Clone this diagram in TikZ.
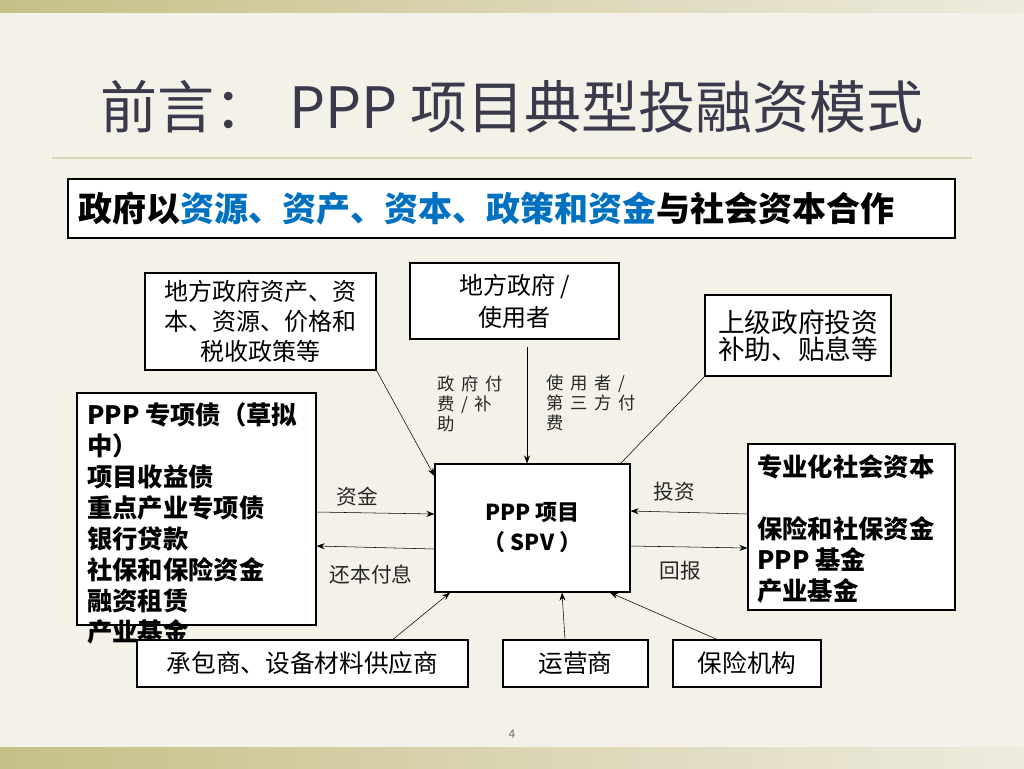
\documentclass[tikz,border=0pt]{standalone}
\usepackage{fontspec}
\setmainfont{Noto Sans CJK SC}
\usetikzlibrary{arrows.meta,calc}
\definecolor{slidebg}{HTML}{F4F2E8}
\definecolor{bandl}{HTML}{C6BF86}
\definecolor{bandr}{HTML}{EEEBDF}
\definecolor{titlec}{HTML}{3A3A4C}
\definecolor{hilite}{HTML}{0070C0}
\definecolor{rulec}{HTML}{D9D3AE}
\newcommand\gap{\hspace{5pt}}

\begin{document}
\begin{tikzpicture}[
  x=0.75pt, y=-0.75pt,
  box/.style={draw, line width=0.9pt, fill=white, inner sep=0pt, align=center},
  sized/.style 2 args={minimum width=#1*0.75pt, minimum height=#2*0.75pt},
  lbl/.style={text=black!85, inner sep=0pt, font=\fontsize{15.5}{18}\selectfont},
  small/.style={text=black!85, inner sep=0pt, align=left, font=\fontsize{13}{15}\selectfont},
  >={Stealth[length=6pt,width=4.5pt]}
]
% slide background
\fill[slidebg] (0,0) rectangle (1024,768);
\shade[left color=bandl, right color=bandr] (0,0) rectangle (1024,12);
\shade[left color=bandl, right color=bandr] (0,747) rectangle (1024,768);
\draw[rulec, line width=1.5pt] (52,158) -- (972,158);
\useasboundingbox (0,0) rectangle (1024,768);

\node[text=titlec, font=\fontsize{42.75}{50}\selectfont] (title) at (512,107)
  {前言：\hspace{13pt}PPP 项目典型投融资模式};

\node[box, sized={887}{59}, inner xsep=7.5pt, text width=650.25pt, align=left,
  font=\fontsize{25.5}{30}\selectfont\bfseries] (ban) at (511.5,208.5)
  {政府以\textcolor{hilite}{资源、资产、资本、政策和资金}与社会资本合作};

% boxes
\node[box, sized={231}{97}, font=\fontsize{18}{22.5}\selectfont] (res) at (260.5,321.5)
  {地方政府资产、资\\本、资源、价格和\\税收政策等};
\node[box, sized={209}{76}, font=\fontsize{18}{24}\selectfont] (gov) at (514.5,301)
  {地方政府 /\\使用者};
\node[box, sized={186}{81}, font=\fontsize{20}{20.5}\selectfont] (sup) at (798,335.5)
  {上级政府投资\\补助、贴息等};
\node[box, sized={239}{232}] (fin) at (196.5,509) {};
\node[anchor=north west, inner sep=0pt, align=left,
  font=\fontsize{19}{23.25}\selectfont\bfseries] (fintxt) at (87,402)
  {PPP 专项债（草拟\\中）\\项目收益债\\重点产业专项债\\银行贷款\\社保和保险资金\\融资租赁\\产业基金};
\node[box, sized={195}{128}, font=\fontsize{16.5}{22.5}\selectfont\bfseries] (spv) at (532.5,528)
  {PPP 项目\\（ SPV ）};
\node[box, sized={207}{166}] (inv) at (851.5,527) {};
\node[anchor=north west, inner sep=0pt, align=left,
  font=\fontsize{19}{23.25}\selectfont\bfseries] (invtxt) at (757,454)
  {专业化社会资本\\[23.25pt]保险和社保资金\\PPP 基金\\产业基金};
\node[box, sized={331}{47}, font=\fontsize{18.5}{22}\selectfont] (con) at (302.5,663.5)
  {承包商、设备材料供应商};
\node[box, sized={145}{47}, font=\fontsize{18.5}{22}\selectfont] (opr) at (575.5,663.5)
  {运营商};
\node[box, sized={148}{47}, font=\fontsize{18.5}{22}\selectfont] (ins) at (747,663.5)
  {保险机构};

% labels
\node[small, anchor=north west] (govpay) at (437,375) {政\gap 府\gap 付\\费\gap /\gap 补\\助};
\node[small, anchor=north west] (usrpay) at (546,375) {使\gap 用\gap 者\gap /\\第\gap 三\gap 方\gap 付\\费};
\node[lbl] (funds) at (357,497) {资金};
\node[lbl] (repay) at (371,575) {还本付息};
\node[lbl] (invest) at (674,492) {投资};
\node[lbl] (ret) at (680,571) {回报};

% connectors
\draw[->] (res.south east) -- ($(spv.west)+(0,-52)$);
\draw[->] ($(gov.south)+(12.5,7)$) -- ($(spv.north)+(-5.5,0)$);
\draw (sup.south west) -- ($(spv.north east)+(-10,0)$);
\draw[->] ($(fin.east)+(0,3)$) -- ($(spv.west)+(0,-14)$);
\draw[->] ($(spv.west)+(0,21)$) -- ($(fin.east)+(0,37)$);
\draw[->] ($(inv.west)+(0,-13)$) -- ($(spv.east)+(0,-17)$);
\draw[->] ($(spv.east)+(0,18)$) -- ($(inv.west)+(0,21)$);
\draw[->] ($(con.north)+(90.5,0)$) -- ($(spv.south)+(-82.5,0)$);
\draw[->] ($(opr.north)+(-10.5,0)$) -- ($(spv.south)+(29.5,0)$);
\draw[->] ($(ins.north)+(-30,0)$) -- ($(spv.south)+(77.5,0)$);

\node[text=black!55, font=\fontsize{9}{10}\selectfont] (pg) at (512,734) {4};
\end{tikzpicture}
\end{document}
